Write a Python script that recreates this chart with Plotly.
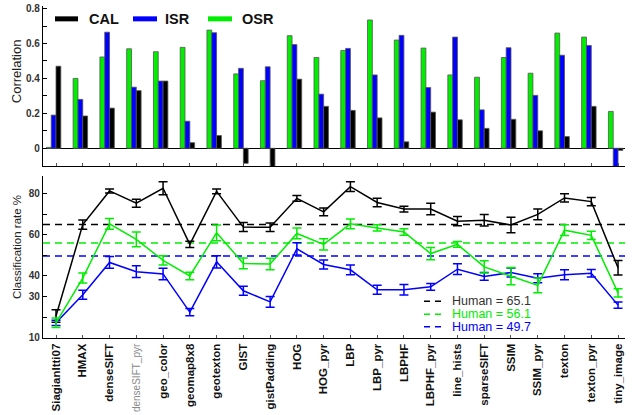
import plotly.graph_objects as go

categories = ['SiagianItti07', 'HMAX', 'denseSIFT', 'denseSIFT_pyr', 'geo_color', 'geomap8x8',
              'geotexton', 'GIST', 'gistPadding', 'HOG', 'HOG_pyr', 'LBP', 'LBP_pyr', 'LBPHF',
              'LBPHF_pyr', 'line_hists', 'sparseSIFT', 'SSIM', 'SSIM_pyr', 'texton', 'texton_pyr',
              'tiny_image']
muted_labels = ['denseSIFT_pyr']

# Correlation (top panel)
corr_cal = [0.47, 0.185, 0.23, 0.33, 0.385, 0.032, 0.073, -0.086, -0.12, 0.396, 0.24, 0.217,
            0.174, 0.037, 0.207, 0.163, 0.114, 0.166, 0.10, 0.067, 0.24, -0.012]
corr_isr = [0.19, 0.28, 0.665, 0.35, 0.385, 0.155, 0.662, 0.458, 0.467, 0.594, 0.31, 0.572,
            0.42, 0.647, 0.348, 0.637, 0.22, 0.576, 0.303, 0.533, 0.589, -0.11]
corr_osr = [0.005, 0.40, 0.523, 0.57, 0.553, 0.578, 0.677, 0.426, 0.387, 0.645, 0.52, 0.56,
            0.735, 0.62, 0.574, 0.42, 0.407, 0.52, 0.43, 0.66, 0.637, 0.211]

# Classification rate % (bottom panel)
rate_cal = [20.5, 65.0, 81.4, 75.4, 82.7, 55.4, 81.2, 63.8, 63.7, 77.8, 71.2, 83.5, 75.8, 72.6,
            72.6, 66.7, 67.1, 64.8, 70.0, 78.0, 76.2, 44.0]
err_cal = [3.0, 2.3, 1.0, 1.9, 3.2, 1.5, 1.2, 2.2, 2.1, 1.4, 1.9, 2.4, 2.1, 1.4, 2.8, 2.2, 2.8,
           3.8, 2.6, 2.0, 2.0, 3.5]
rate_isr = [17.2, 30.9, 46.6, 42.1, 41.0, 22.4, 46.9, 32.8, 27.4, 53.2, 45.6, 43.0, 33.3, 33.3,
            34.7, 43.3, 39.8, 41.7, 38.9, 40.6, 41.3, 25.8]
err_isr = [1.3, 2.2, 2.9, 2.9, 2.8, 1.8, 3.0, 2.2, 2.6, 3.0, 2.2, 2.4, 2.2, 2.6, 1.6, 2.6, 1.9,
           2.2, 2.2, 2.4, 1.8, 1.5]
rate_osr = [17.2, 39.0, 65.4, 57.8, 47.6, 40.0, 61.0, 46.1, 45.8, 60.7, 55.4, 65.4, 63.4, 61.4,
            50.9, 55.4, 44.4, 39.9, 35.4, 62.3, 59.8, 31.8]
err_osr = [2.3, 2.4, 2.6, 3.6, 2.3, 1.8, 3.8, 2.6, 2.8, 2.6, 2.7, 2.4, 1.5, 1.6, 3.0, 1.4, 3.0,
           4.2, 3.6, 2.6, 2.0, 2.0]

series_names = ['CAL', 'ISR', 'OSR']
series_colors = ['#000000', '#0000ff', '#00ee00']
human_rates = [65.1, 49.7, 56.1]          # CAL, ISR, OSR
human_text_colors = ['#333333', '#0000ff', '#00ee00']

corr_y_ticks = [0, 0.1, 0.2, 0.3, 0.4, 0.5, 0.6, 0.7, 0.8]
corr_y_labels = ['0', '', '0.2', '', '0.4', '', '0.6', '', '0.8']
rate_y_ticks = [10, 20, 30, 40, 50, 60, 70, 80]
rate_y_labels = ['10', '', '30', '40', '', '60', '', '80']

W, H = 635, 415
ML, MR, MT, MB = 43, 10, 3, 76
PW, PH = W - ML - MR, H - MT - MB


def px(xp):
    return (xp - ML) / PW


def py(yp):
    return (H - MB - yp) / PH


FONT = 'Liberation Sans, Arial, sans-serif'

fig = go.Figure()

# ---- top panel: grouped bars (OSR, ISR, CAL from left to right) ----
bar_specs = [(corr_osr, 2, -0.36), (corr_isr, 1, -0.18), (corr_cal, 0, 0.0)]
for vals, si, off in bar_specs:
    fig.add_trace(go.Bar(
        x=categories, y=vals, xaxis='x', yaxis='y',
        name=series_names[si], showlegend=False,
        offset=off, width=0.18,
        marker=dict(color=series_colors[si], line=dict(color='#555555', width=0.8)),
    ))

# ---- bottom panel: rates with error bars ----
for vals, errs, si in [(rate_cal, err_cal, 0), (rate_isr, err_isr, 1), (rate_osr, err_osr, 2)]:
    fig.add_trace(go.Scatter(
        x=categories, y=vals, xaxis='x2', yaxis='y2', mode='lines',
        name=series_names[si], showlegend=False,
        line=dict(color=series_colors[si], width=1.5),
        error_y=dict(type='data', array=errs, visible=True, color=series_colors[si],
                     thickness=1.5, width=4.5),
    ))

shapes = []
annotations = []

# human reference lines
for hv, si in zip(human_rates, range(3)):
    shapes.append(dict(type='line', xref='x2 domain', yref='y2', x0=0, x1=1, y0=hv, y1=hv,
                       line=dict(color=series_colors[si], width=1.5, dash='7px,5px'), layer='below'))

# top legend (thick line keys)
leg_key_x = [(55, 78, 87), (133, 157, 163), (208, 232, 240)]
for si, (x0, x1, xt) in enumerate(leg_key_x):
    shapes.append(dict(type='line', xref='paper', yref='paper', x0=px(x0), x1=px(x1),
                       y0=py(16), y1=py(16), line=dict(color=series_colors[si], width=5)))
    annotations.append(dict(xref='paper', yref='paper', x=px(xt), y=py(16), xanchor='left',
                            yanchor='middle', showarrow=False, text=series_names[si],
                            font=dict(family=FONT, size=14.5, color='#111111', weight='bold')))

# bottom legend (human lines)
hum_rows = [(0, 301.7), (2, 315), (1, 327.7)]
for si, yr in hum_rows:
    shapes.append(dict(type='line', xref='paper', yref='paper', x0=px(424), x1=px(441),
                       y0=py(yr), y1=py(yr),
                       line=dict(color=series_colors[si], width=1.5, dash='6px,5px')))
    annotations.append(dict(xref='paper', yref='paper', x=px(450), y=py(yr), xanchor='left',
                            yanchor='middle', showarrow=False,
                            text=f'Human = {human_rates[si]}',
                            font=dict(family=FONT, size=12.5, color=human_text_colors[si])))

# axis titles
annotations.append(dict(xref='paper', yref='paper', x=px(16), y=py(69), xanchor='center',
                        yanchor='middle', textangle=-90, showarrow=False, text='Correlation',
                        font=dict(family=FONT, size=13, color='#222222')))
annotations.append(dict(xref='paper', yref='paper', x=px(17), y=py(247), xanchor='center',
                        yanchor='middle', textangle=-90, showarrow=False,
                        text='Classification rate %',
                        font=dict(family='Liberation Sans Narrow, ' + FONT, size=11.5,
                                  color='#222222')))

ticktext = [f'<span style="font-weight:normal;font-size:10px;fill:#888888">{c}</span>'
            if c in muted_labels else c for c in categories]

xr = [-0.486, 21.26]
tickfont_y = dict(family=FONT, size=10, color='#333333', weight='bold')
fig.update_layout(
    width=W, height=H,
    margin=dict(l=ML, r=MR, t=MT, b=MB),
    paper_bgcolor='white', plot_bgcolor='white',
    barmode='overlay',
    showlegend=False,
    xaxis=dict(domain=[0, 1], anchor='y', type='category', categoryorder='array',
               categoryarray=categories, range=xr, showticklabels=False,
               ticks='inside', ticklen=3, tickcolor='#555555', showgrid=False,
               showline=True, linecolor='#000000', linewidth=1.2, zeroline=False),
    yaxis=dict(domain=[py(165), 1], anchor='x', range=[-0.102, 0.815],
               tickvals=corr_y_ticks, ticktext=corr_y_labels, ticks='inside', ticklen=4,
               tickcolor='#000000', showgrid=False, showline=True, linecolor='#000000',
               linewidth=1.2, zeroline=True, zerolinecolor='#000000', zerolinewidth=1.2,
               tickfont=tickfont_y),
    xaxis2=dict(domain=[0, 1], anchor='y2', type='category', categoryorder='array',
                categoryarray=categories, range=xr, tickvals=categories, ticktext=ticktext,
                tickangle=-90, ticks='inside', ticklen=3, tickcolor='#555555',
                showgrid=False, showline=True, linecolor='#000000', linewidth=1.2,
                tickfont=dict(family=FONT, size=11.5, color='#111111', weight='bold')),
    yaxis2=dict(domain=[0, py(175)], anchor='x2', range=[9.8, 88.7],
                tickvals=rate_y_ticks, ticktext=rate_y_labels, ticks='inside', ticklen=4,
                tickcolor='#000000', showgrid=False, showline=True, linecolor='#000000',
                linewidth=1.2, zeroline=False, tickfont=tickfont_y),
    shapes=shapes,
    annotations=annotations,
)

fig.write_html('out.html', config={'displayModeBar': False},
               post_script="document.body.style.margin='0';document.body.style.overflow='hidden';")
